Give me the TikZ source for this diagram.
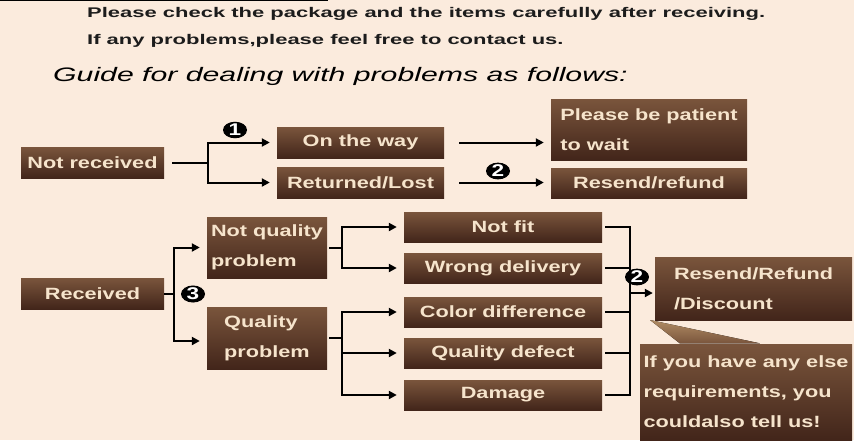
\documentclass[tikz,border=0pt]{standalone}
\usepackage{fontspec}
\usepackage{tikz}
\usetikzlibrary{arrows.meta,positioning,shapes.geometric}
\newfontfamily\boxfont[FakeStretch=1.33]{Liberation Sans}
\newfontfamily\headfont[FakeStretch=1.57]{Liberation Sans}
\newfontfamily\guidefont[FakeStretch=1.55]{Liberation Sans}
\definecolor{gdPaper}{HTML}{FBEBDD}
\definecolor{gdTop}{HTML}{7A553C}
\definecolor{gdBot}{HTML}{42251A}
\definecolor{gdTan}{HTML}{B08C64}
\definecolor{gdText}{HTML}{F6E4CC}
\definecolor{gdInk}{HTML}{1C1C1C}
\tikzset{
  % Brown step box
  bbox/.style={rectangle,draw=none,top color=gdTop,bottom color=gdBot,
    inner sep=0pt,align=center,text=gdText,
    font=\boxfont\bfseries\fontsize{16.3pt}{30pt}\selectfont},
  % Two/three line box, text block flush left
  lbox/.style={bbox,align=left},
  % Header lines
  headtxt/.style={anchor=base west,inner sep=0pt,text=gdInk,
    font=\headfont\bfseries\fontsize{14pt}{16pt}\selectfont},
  guidetxt/.style={anchor=base west,inner sep=0pt,text=black,
    font=\guidefont\itshape\fontsize{19.5pt}{22pt}\selectfont},
  % Black numbered disc
  num/.style={ellipse,fill=black,text=white,inner sep=0pt,
    minimum width=24pt,minimum height=16pt,
    font=\boxfont\bfseries\fontsize{17pt}{17pt}\selectfont},
  % Connectors
  conn/.style={line width=2pt,black},
  arr/.style={conn,-{Triangle[length=8pt,width=8pt]},shorten >=7pt},
}
\begin{document}
\begin{tikzpicture}[x=1pt,y=-1pt]
  \useasboundingbox (0,0) rectangle (854,440);
  \fill[gdPaper] (0,0) rectangle (854,440);
  \draw[line width=0.8pt] (0,0.4) -- (328,0.4);

  % header
  \node[headtxt] (hd1) at (87,17.5)
    {Please check the package and the items carefully after receiving.};
  \node[headtxt] (hd2) at (87,44.5)
    {If any problems,please feel free to contact us.};
  \node[guidetxt] (guide) at (53,81.5)
    {Guide for dealing with problems as follows:};

  % not received
  \node[bbox,minimum width=143pt,minimum height=31pt] (nrecv) at (92.5,162.5) {Not received};
  \node[bbox,minimum width=167pt,minimum height=31pt] (onway) at (360.5,142.5) {On the way};
  \node[bbox,minimum width=167pt,minimum height=31pt] (lost) at (360.5,182.5) {Returned/Lost};
  \node[lbox,minimum width=196pt,minimum height=61pt] (wait) at (649,129.5)
    {Please be patient\\to wait};
  \node[bbox,minimum width=196pt,minimum height=30pt] (resendA) at (649,183) {Resend/refund};

  \coordinate (j1) at (208,162.5);
  \draw[conn,shorten <=8pt] (nrecv) -- (j1);
  \draw[arr] (j1) |- (onway);
  \draw[arr] (j1) |- (lost);
  \draw[arr,shorten <=15pt] (onway.east) -- (onway.east -| wait.west);
  \draw[arr,shorten <=15pt] (lost.east) -- (lost.east -| resendA.west);

  % received
  \node[bbox,minimum width=143pt,minimum height=31pt] (recv) at (92.5,293.5) {Received};
  \node[lbox,minimum width=120pt,minimum height=61pt] (notqual) at (267,247.5)
    {Not quality\\problem};
  \node[lbox,minimum width=120pt,minimum height=62pt] (qual) at (267,338)
    {Quality\\problem};
  \node[bbox,minimum width=198pt,minimum height=30pt] (notfit) at (503,227) {Not fit};
  \node[bbox,minimum width=198pt,minimum height=30pt] (wrong) at (503,268) {Wrong delivery};
  \node[bbox,minimum width=198pt,minimum height=30pt] (colordiff) at (503,312) {Color difference};
  \node[bbox,minimum width=198pt,minimum height=30pt] (defect) at (503,353) {Quality defect};
  \node[bbox,minimum width=198pt,minimum height=30pt] (damage) at (503,395) {Damage};
  \node[lbox,minimum width=197pt,minimum height=63pt] (resendB) at (753.5,288.5)
    {Resend/Refund\\/Discount};

  \coordinate (j2) at (174,293.5);
  \draw[conn] (recv) -- (j2);
  \draw[arr] (j2) |- (notqual);
  \draw[arr] (j2) |- ([yshift=-3pt]qual.west);

  \coordinate (j3) at (342,247.5);
  \draw[conn,shorten <=2pt] (notqual) -- (j3);
  \draw[arr] (j3) |- (notfit);
  \draw[arr] (j3) |- (wrong);

  \coordinate (j4) at (342,338);
  \draw[conn,shorten <=2pt] (qual) -- (j4);
  \foreach \b in {colordiff,defect,damage}
    \draw[arr] (j4) |- (\b);

  \coordinate (j5) at (630,293);
  \foreach \b in {notfit,wrong,colordiff,defect,damage}
    \draw[conn,shorten <=3pt] (\b) -| (j5);
  \draw[arr,shorten >=2pt] (j5) -- (j5 -| resendB.west);

  % note with pointer
  \node[lbox,minimum width=212pt,minimum height=96pt] (note) at (746,392)
    {If you have any else\\requirements, you\\couldalso tell us!};
  \coordinate (tip) at (650,320);
  \fill[top color=gdTan,bottom color=gdTop]
    (tip) -- ([xshift=40pt,yshift=0.5pt]note.north west)
    -- ([xshift=120pt,yshift=0.5pt]note.north west) -- cycle;

  % numbers
  \node[num] (c1) at (235,130) {1};
  \node[num] (c2) at (498,171) {2};
  \node[num] (c3) at (193,294) {3};
  \node[num] (c4) at (637,277) {2};
\end{tikzpicture}
\end{document}
